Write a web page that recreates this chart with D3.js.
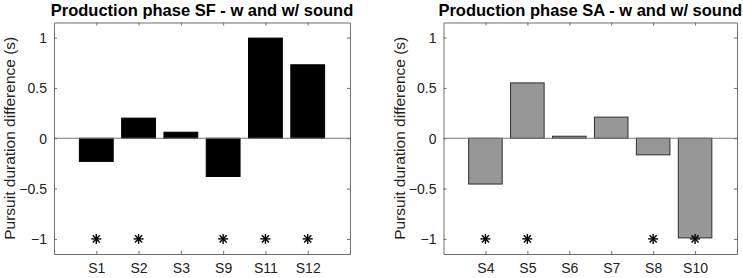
<!DOCTYPE html>
<html>
<head>
<meta charset="utf-8">
<script src="https://cdn.jsdelivr.net/npm/d3@7"></script>
<style>
  body { margin: 0; background: #fff; }
  svg text { font-family: "Liberation Sans", Arial, sans-serif; fill: #222; }
</style>
</head>
<body>
<div id="chart"></div>
<script>
// left panel
var sfSubjects = ["S1", "S2", "S3", "S9", "S11", "S12"];
var sfValues = [-0.23, 0.20, 0.06, -0.38, 0.995, 0.73];
var sfStars = ["S1", "S2", "S9", "S11", "S12"];

// right panel
var saSubjects = ["S4", "S5", "S6", "S7", "S8", "S10"];
var saValues = [-0.455, 0.55, 0.02, 0.21, -0.165, -0.99];
var saStars = ["S4", "S5", "S8", "S10"];

var yTicks = [-1, -0.5, 0, 0.5, 1];
var yLabel = "Pursuit duration difference (s)";

var svg = d3.select("#chart").append("svg")
    .attr("width", 743)
    .attr("height", 278);

function drawPanel(opts) {
    var g = svg.append("g").attr("transform", "translate(" + opts.left + ",22.5)");
    var w = opts.width, h = 231.5;

    var x = d3.scaleLinear().domain([0, 7]).range([0, w]);
    var y = d3.scaleLinear().domain([-1.15, 1.15]).range([h, 0]);
    var bw = x(0.8) - x(0);

    var data = opts.subjects.map(function(s, i) {
        return {name: s, pos: i + 1, value: opts.values[i]};
    });

    // bars
    g.selectAll(".bar")
        .data(data)
        .enter().append("rect")
        .attr("class", "bar")
        .attr("x", function(d) { return x(d.pos) - bw / 2; })
        .attr("y", function(d) { return y(Math.max(0, d.value)); })
        .attr("width", bw)
        .attr("height", function(d) { return Math.abs(y(d.value) - y(0)); })
        .attr("fill", opts.fill)
        .attr("stroke", opts.stroke)
        .attr("stroke-width", 1);

    // zero baseline
    g.append("line")
        .attr("x1", 0).attr("x2", w)
        .attr("y1", y(0)).attr("y2", y(0))
        .attr("stroke", "#7a7a7a")
        .attr("stroke-width", 1);

    // significance asterisks
    var starData = data.filter(function(d) { return opts.stars.indexOf(d.name) >= 0; });
    var star = g.selectAll(".star")
        .data(starData)
        .enter().append("g")
        .attr("class", "star")
        .attr("transform", function(d) { return "translate(" + x(d.pos) + "," + y(-1) + ")"; });
    [0, 45, 90, 135].forEach(function(a) {
        star.append("line")
            .attr("x1", 0).attr("y1", -5)
            .attr("x2", 0).attr("y2", 5)
            .attr("transform", "rotate(" + a + ")")
            .attr("stroke", "#000")
            .attr("stroke-width", 1.4);
    });

    // axes (MATLAB style: ticks inside, box)
    var axisColor = "#6e6e6e";
    var xAxis = d3.axisBottom(x)
        .tickValues(data.map(function(d) { return d.pos; }))
        .tickFormat(function(d, i) { return data[i].name; })
        .tickSizeInner(-3).tickSizeOuter(0).tickPadding(9);
    var xTop = d3.axisTop(x)
        .tickValues(data.map(function(d) { return d.pos; }))
        .tickFormat("").tickSizeInner(-3).tickSizeOuter(0);
    var yAxis = d3.axisLeft(y)
        .tickValues(yTicks)
        .tickFormat(function(d) { return d3.format("")(d); })
        .tickSizeInner(-3).tickSizeOuter(0).tickPadding(7);
    var yRight = d3.axisRight(y)
        .tickValues(yTicks).tickFormat("").tickSizeInner(-3).tickSizeOuter(0);

    var gx = g.append("g").attr("transform", "translate(0," + h + ")").call(xAxis);
    var gxt = g.append("g").call(xTop);
    var gy = g.append("g").call(yAxis);
    var gyr = g.append("g").attr("transform", "translate(" + w + ",0)").call(yRight);

    [gx, gxt, gy, gyr].forEach(function(a) {
        a.selectAll("path, line").attr("stroke", axisColor);
        a.selectAll("text")
            .style("font-size", "14px")
            .style("font-family", "'Liberation Sans', Arial, sans-serif")
            .attr("fill", "#222");
    });
    gy.selectAll("text").attr("dy", "0.35em");

    // title
    svg.append("text")
        .attr("x", opts.left + w / 2)
        .attr("y", 16)
        .attr("text-anchor", "middle")
        .style("font-size", "16.5px")
        .style("font-weight", "bold")
        .style("fill", "#000")
        .text(opts.title);

    // y label
    svg.append("text")
        .attr("transform", "translate(" + (opts.left - 44) + "," + (22.5 + h / 2) + ") rotate(-90)")
        .attr("text-anchor", "middle")
        .attr("dy", "0.35em")
        .style("font-size", "15.5px")
        .text(yLabel);
}

drawPanel({
    left: 54, width: 296,
    subjects: sfSubjects, values: sfValues, stars: sfStars,
    fill: "#000", stroke: "#000",
    title: "Production phase SF - w and w/ sound"
});

drawPanel({
    left: 443.5, width: 293.5,
    subjects: saSubjects, values: saValues, stars: saStars,
    fill: "#979797", stroke: "#2e2e2e",
    title: "Production phase SA - w and w/ sound"
});
</script>
</body>
</html>
